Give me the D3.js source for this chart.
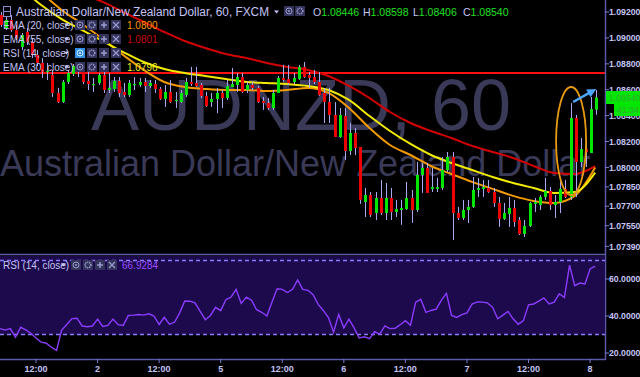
<!DOCTYPE html>
<html><head><meta charset="utf-8">
<script src="https://cdn.jsdelivr.net/npm/d3@7"></script>
<style>html,body{margin:0;padding:0;background:#000;overflow:hidden}</style>
</head><body><svg id="c" width="640" height="377"></svg>
<script>
// ---------------- DATA ----------------
const open = [1.09177,1.09077,1.09139,1.09061,1.08930,1.09046,1.08969,1.08868,1.08807,1.08737,
1.08714,1.08575,1.08505,1.08660,1.08722,1.08745,1.08783,1.08668,1.08637,1.08652,
1.08714,1.08598,1.08606,1.08668,1.08583,1.08559,1.08637,1.08637,1.08660,1.08629,
1.08644,1.08606,1.08529,1.08583,1.08513,1.08505,1.08559,1.08660,1.08652,1.08637,
1.08552,1.08505,1.08529,1.08575,1.08536,1.08621,1.08637,1.08698,1.08598,1.08637,
1.08614,1.08513,1.08498,1.08459,1.08575,1.08691,1.08683,1.08660,1.08683,1.08776,
1.08714,1.08698,1.08660,1.08575,1.08505,1.08405,1.08235,1.08397,1.08127,1.08266,
1.08158,1.07733,1.07787,1.07648,1.07764,1.07648,1.07764,1.07656,1.07671,1.07679,
1.07764,1.07671,1.07942,1.07996,1.07834,1.07834,1.07841,1.07980,1.08081,1.07648,
1.07610,1.07671,1.07695,1.07826,1.07834,1.07841,1.07810,1.07725,1.07602,1.07641,
1.07687,1.07594,1.07486,1.07548,1.07718,1.07710,1.07772,1.07818,1.07710,1.07733,
1.07834,1.07772,1.08382,1.08042,1.08142,1.08112,1.08446];
const high = [1.09200,1.09169,1.09177,1.09100,1.09038,1.09077,1.09000,1.08907,1.08845,1.08807,
1.08753,1.08614,1.08675,1.08753,1.08799,1.08814,1.08814,1.08737,1.08691,1.08729,
1.08737,1.08729,1.08698,1.08698,1.08652,1.08675,1.08698,1.08691,1.08691,1.08675,
1.08675,1.08621,1.08637,1.08675,1.08583,1.08598,1.08691,1.08776,1.08776,1.08652,
1.08583,1.08575,1.08614,1.08598,1.08675,1.08768,1.08729,1.08729,1.08660,1.08660,
1.08629,1.08544,1.08536,1.08598,1.08706,1.08791,1.08791,1.08729,1.08791,1.08814,
1.08737,1.08753,1.08737,1.08614,1.08614,1.08505,1.08459,1.08459,1.08343,1.08305,
1.08158,1.07841,1.07810,1.07810,1.07903,1.07880,1.07841,1.07749,1.07749,1.07888,
1.07826,1.08042,1.08034,1.08034,1.07996,1.07919,1.08081,1.08119,1.08119,1.07695,
1.07749,1.07749,1.07926,1.07919,1.07903,1.07903,1.07841,1.07772,1.07725,1.07772,
1.07749,1.07617,1.07594,1.07733,1.07764,1.07787,1.07919,1.07849,1.07787,1.07919,
1.07903,1.08498,1.08405,1.08227,1.08212,1.08544,1.08598];
const low = [1.09085,1.09061,1.09046,1.08984,1.08907,1.08946,1.08845,1.08783,1.08691,1.08675,
1.08544,1.08498,1.08498,1.08644,1.08706,1.08698,1.08644,1.08598,1.08583,1.08637,
1.08575,1.08575,1.08583,1.08544,1.08544,1.08544,1.08598,1.08621,1.08583,1.08614,
1.08575,1.08521,1.08467,1.08498,1.08459,1.08498,1.08544,1.08629,1.08621,1.08536,
1.08467,1.08467,1.08420,1.08459,1.08521,1.08621,1.08583,1.08575,1.08575,1.08598,
1.08498,1.08444,1.08444,1.08444,1.08575,1.08660,1.08637,1.08644,1.08675,1.08691,
1.08614,1.08644,1.08552,1.08343,1.08343,1.08235,1.08227,1.08058,1.08096,1.08096,
1.07718,1.07617,1.07617,1.07594,1.07633,1.07594,1.07594,1.07617,1.07556,1.07671,
1.07571,1.07656,1.07803,1.07803,1.07810,1.07810,1.07826,1.07965,1.07440,1.07594,
1.07594,1.07571,1.07687,1.07772,1.07772,1.07803,1.07695,1.07540,1.07594,1.07540,
1.07540,1.07478,1.07463,1.07540,1.07656,1.07671,1.07749,1.07671,1.07610,1.07648,
1.07764,1.07749,1.07772,1.08003,1.08003,1.08112,1.08406];
const close = [1.09100,1.09139,1.09061,1.09000,1.09023,1.08969,1.08868,1.08807,1.08737,1.08745,
1.08575,1.08505,1.08660,1.08729,1.08783,1.08753,1.08660,1.08644,1.08644,1.08714,
1.08598,1.08614,1.08668,1.08575,1.08559,1.08652,1.08644,1.08660,1.08629,1.08652,
1.08606,1.08529,1.08583,1.08505,1.08521,1.08575,1.08660,1.08644,1.08629,1.08552,
1.08475,1.08529,1.08575,1.08536,1.08629,1.08644,1.08698,1.08583,1.08637,1.08614,
1.08505,1.08498,1.08459,1.08575,1.08691,1.08675,1.08652,1.08691,1.08776,1.08698,
1.08691,1.08660,1.08559,1.08505,1.08405,1.08235,1.08405,1.08127,1.08266,1.08150,
1.07749,1.07787,1.07633,1.07764,1.07648,1.07764,1.07656,1.07679,1.07687,1.07764,
1.07671,1.07942,1.07996,1.07803,1.07849,1.07849,1.07980,1.08081,1.07648,1.07610,
1.07671,1.07695,1.07826,1.07841,1.07849,1.07810,1.07725,1.07602,1.07648,1.07687,
1.07579,1.07486,1.07548,1.07725,1.07733,1.07772,1.07818,1.07710,1.07733,1.07834,
1.07772,1.08382,1.08042,1.08142,1.08119,1.08451,1.08540];

const emaIndex = [0,4,8,12,16,20,24,28,32,36,40,44,48,52,56,60,64,68,72,76,80,84,88,92,96,100,104,108,112,116];
const ema20 = [1.09640,1.09525,1.09355,1.09216,1.09108,1.08992,1.08868,1.08753,1.08660,1.08621,1.08606,1.08598,1.08598,1.08590,1.08598,1.08614,1.08575,1.08459,1.08305,1.08173,1.08096,1.08011,1.07949,1.07888,1.07834,1.07780,1.07741,1.07725,1.07780,1.08000];
const ema30 = [1.09486,1.09386,1.09254,1.09146,1.09061,1.08976,1.08891,1.08814,1.08760,1.08729,1.08706,1.08683,1.08660,1.08652,1.08644,1.08629,1.08598,1.08521,1.08397,1.08281,1.08181,1.08096,1.08034,1.07980,1.07926,1.07880,1.07841,1.07803,1.07810,1.07960];
const ema55 = [1.09525,1.09478,1.09432,1.09386,1.09339,1.09278,1.09200,1.09123,1.09046,1.08976,1.08922,1.08876,1.08845,1.08807,1.08776,1.08753,1.08706,1.08629,1.08536,1.08428,1.08343,1.08281,1.08227,1.08166,1.08119,1.08073,1.08011,1.07957,1.07949,1.08010];

const rsi = [33.2,32.4,33.2,28.5,33.9,32.5,30.7,28.1,25.9,25.3,
23.1,21.4,32.4,35.4,38.6,38.8,34.6,34.2,34.6,38.3,
34.4,34.9,38.3,35.3,34.9,40.3,40.5,40.8,40.5,41.2,
40.0,35.4,39.3,35.6,36.6,41.7,48.1,48.0,47.1,42.5,
38.0,40.3,44.7,42.9,48.8,50.2,54.4,46.8,50.2,48.5,
43.4,42.0,40.0,47.6,54.7,54.4,52.7,54.4,59.5,54.4,
53.9,51.5,46.3,43.0,39.2,31.2,40.8,33.6,38.3,33.6,
28.1,28.8,27.8,31.5,30.2,34.6,33.2,33.4,35.3,37.5,
35.0,47.5,49.0,42.0,43.0,43.7,48.5,52.2,40.3,39.2,
40.8,41.7,46.4,47.6,47.5,47.1,44.7,38.5,40.5,42.5,
38.5,35.5,37.5,46.0,46.5,48.0,49.8,46.5,47.5,52.0,
50.0,67.5,56.4,57.8,57.3,65.4,66.9284];

const priceTicks = [1.092,1.090,1.088,1.086,1.084,1.082,1.080,1.0785,1.077,1.0755,1.0739];
const rsiTicks = [60,40,20];
const rsiBands = [70,30];
const timeTickIndex = [7,19,31,43,55,67,79,91,103,115];
const timeTickLabels = ["12:00","2","12:00","5","12:00","6","12:00","7","12:00","8"];
const resistance = 1.08729;
const lastPrice = 1.08540;
const countdown = "41:34";

// ---------------- DRAW ----------------
const svg = d3.select("#c");
const W = 640, H = 377, AX = 605, MAIN_B = 254, RSI_T = 256, RSI_B = 359;
const FONT = "'Liberation Sans', Arial, sans-serif";
const NARROW = "'Liberation Sans Narrow', 'Arial Narrow', sans-serif";
const TXT = "#c4c4f6";

const x = d3.scaleLinear().domain([0, 116]).range([0.1, 595.2]);
const y = d3.scaleLinear().domain([1.0739, 1.092]).range([246.4, 12.05]);
const yr = d3.scaleLinear().domain([30, 70]).range([334.5, 260.5]);

svg.append("rect").attr("width", W).attr("height", H).attr("fill", "#000");

const defs = svg.append("defs");
defs.append("clipPath").attr("id", "cm").append("rect").attr("x", 0).attr("y", 0).attr("width", AX).attr("height", MAIN_B);
defs.append("clipPath").attr("id", "cr").append("rect").attr("x", 0).attr("y", RSI_T).attr("width", AX).attr("height", RSI_B - RSI_T);

const gm = svg.append("g").attr("clip-path", "url(#cm)");

// watermark
gm.append("text").attr("x", 91).attr("y", 130).text("AUDNZD, 60")
  .attr("font-family", FONT).attr("font-size", 72).attr("fill", "#3a3a58");
gm.append("text").attr("x", 0).attr("y", 176).text("Australian Dollar/New Zealand Dollar")
  .attr("font-family", FONT).attr("font-size", 36).attr("fill", "#3a3a58");

// horizontal resistance line
gm.append("line").attr("x1", 0).attr("x2", AX).attr("y1", y(resistance)).attr("y2", y(resistance))
  .attr("stroke", "#ff1010").attr("stroke-width", 2);

// EMAs
const emaLine = d3.line().x(d => x(d[0])).y(d => y(d[1])).curve(d3.curveMonotoneX);
[[ema55, "#d40000"], [ema20, "#f29a00"], [ema30, "#f2ea00"]].forEach(([arr, col]) => {
  gm.append("path").datum(emaIndex.map((k, j) => [k, arr[j]]))
    .attr("d", emaLine).attr("fill", "none").attr("stroke", col).attr("stroke-width", 2);
});

// candles
const candles = d3.range(open.length).map(i => ({ i, o: open[i], h: high[i], l: low[i], c: close[i] }));
gm.selectAll("line.wick").data(candles).join("line").attr("class", "wick")
  .attr("x1", d => Math.round(x(d.i)) + 1.5).attr("x2", d => Math.round(x(d.i)) + 1.5)
  .attr("y1", d => y(d.h)).attr("y2", d => y(d.l))
  .attr("stroke", "#a8a8f4").attr("stroke-width", 1);
gm.selectAll("rect.body").data(candles).join("rect").attr("class", "body")
  .attr("x", d => Math.round(x(d.i)))
  .attr("width", 3)
  .attr("y", d => y(Math.max(d.o, d.c)))
  .attr("height", d => Math.max(1.2, Math.abs(y(d.o) - y(d.c))))
  .attr("fill", d => d.c >= d.o ? "#00e600" : "#ee0000");

// annotation: ellipse + arrow
gm.append("ellipse").attr("cx", x(111.3)).attr("cy", y(1.08204)).attr("rx", 15).attr("ry", 54)
  .attr("fill", "none").attr("stroke", "#e89a10").attr("stroke-width", 1.8);
const ax1 = x(111.7), ay1 = y(1.08505), ax2 = x(116.2), ay2 = y(1.08606);
const ang = Math.atan2(ay2 - ay1, ax2 - ax1);
gm.append("line").attr("x1", ax1).attr("y1", ay1)
  .attr("x2", ax2 - 6 * Math.cos(ang)).attr("y2", ay2 - 6 * Math.sin(ang))
  .attr("stroke", "#4aa6ff").attr("stroke-width", 2.5);
const hp = [[ax2, ay2],
  [ax2 - 9 * Math.cos(ang) + 4.5 * Math.sin(ang), ay2 - 9 * Math.sin(ang) - 4.5 * Math.cos(ang)],
  [ax2 - 9 * Math.cos(ang) - 4.5 * Math.sin(ang), ay2 - 9 * Math.sin(ang) + 4.5 * Math.cos(ang)]];
gm.append("polygon").attr("points", hp.map(p => p.join(",")).join(" ")).attr("fill", "#4aa6ff");

// pane separators / axes lines
svg.append("line").attr("x1", 0).attr("x2", AX).attr("y1", MAIN_B + 0.5).attr("y2", MAIN_B + 0.5).attr("stroke", "#5a5aa8").attr("stroke-width", 1.5);
svg.append("line").attr("x1", AX + 0.5).attr("x2", AX + 0.5).attr("y1", 0).attr("y2", RSI_B + 1).attr("stroke", "#5a5aa8").attr("stroke-width", 1.5);

// price axis
const pa = svg.append("g");
pa.selectAll("line").data(priceTicks).join("line")
  .attr("x1", AX).attr("x2", AX + 4).attr("y1", d => y(d)).attr("y2", d => y(d)).attr("stroke", "#7a7ad0");
pa.selectAll("text").data(priceTicks).join("text")
  .attr("x", 609).attr("y", d => y(d) + 3.1).text(d => d.toFixed(5))
  .attr("font-family", NARROW).attr("font-size", 8.7).attr("font-weight", "bold").attr("fill", TXT);

// last price tags
const ly = y(lastPrice);
svg.append("rect").attr("x", 606).attr("y", ly - 6.5).attr("width", 34).attr("height", 13).attr("fill", "#00e600");
svg.append("text").attr("x", 609).attr("y", ly + 3.1).text(lastPrice.toFixed(5))
  .attr("font-family", NARROW).attr("font-size", 8.7).attr("fill", "#3aa63a");
svg.append("rect").attr("x", 614).attr("y", ly + 6.5).attr("width", 26).attr("height", 12).attr("fill", "#00e600");
svg.append("text").attr("x", 617).attr("y", ly + 15.5).text(countdown)
  .attr("font-family", NARROW).attr("font-size", 8.7).attr("fill", "#3aa63a");

// RSI pane
svg.append("rect").attr("x", 0).attr("y", RSI_T).attr("width", AX).attr("height", yr(30) - RSI_T).attr("fill", "#1d0a4c");
const gr = svg.append("g").attr("clip-path", "url(#cr)");
gr.selectAll("line.band").data(rsiBands).join("line").attr("class", "band")
  .attr("x1", 0).attr("x2", AX).attr("y1", d => yr(d)).attr("y2", d => yr(d))
  .attr("stroke", "#8a7cff").attr("stroke-width", 1.3).attr("stroke-dasharray", "4,3");
gr.append("path").datum(rsi).attr("fill", "none").attr("stroke", "#8b3cff").attr("stroke-width", 1.4)
  .attr("d", d3.line().x((d, i) => x(i)).y(d => yr(d)));
const ra = svg.append("g");
ra.selectAll("line").data(rsiTicks).join("line")
  .attr("x1", AX).attr("x2", AX + 4).attr("y1", d => yr(d)).attr("y2", d => yr(d)).attr("stroke", "#7a7ad0");
ra.selectAll("text").data(rsiTicks).join("text")
  .attr("x", 609).attr("y", d => yr(d) + 3.1).text(d => d.toFixed(4))
  .attr("font-family", NARROW).attr("font-size", 8.7).attr("font-weight", "bold").attr("fill", TXT);

// time axis
svg.append("line").attr("x1", 0).attr("x2", AX + 1).attr("y1", RSI_B + 0.5).attr("y2", RSI_B + 0.5).attr("stroke", "#5a5aa8").attr("stroke-width", 1.5);
const ta = svg.append("g");
ta.selectAll("line").data(timeTickIndex).join("line")
  .attr("x1", d => x(d)).attr("x2", d => x(d)).attr("y1", RSI_B).attr("y2", RSI_B + 4).attr("stroke", "#7a7ad0");
ta.selectAll("text").data(timeTickIndex).join("text")
  .attr("x", d => x(d)).attr("y", 372).attr("text-anchor", "middle")
  .text((d, j) => timeTickLabels[j])
  .attr("font-family", NARROW).attr("font-size", 9).attr("font-weight", "bold").attr("fill", TXT);

// ---------------- LEGEND ----------------
function iconBox(g, bx, by, type, hl) {
  g.append("rect").attr("x", bx).attr("y", by).attr("width", 10).attr("height", 10)
    .attr("fill", hl ? "#2f8fe8" : "#33335a");
  const cx = bx + 5, cy = by + 5, c = hl ? "#d8ecff" : "#9a9ad0";
  if (type === "eye") {
    g.append("circle").attr("cx", cx).attr("cy", cy).attr("r", 3).attr("fill", "none").attr("stroke", c).attr("stroke-width", 1);
    g.append("circle").attr("cx", cx).attr("cy", cy).attr("r", 1).attr("fill", c);
  } else if (type === "gear") {
    g.append("circle").attr("cx", cx).attr("cy", cy).attr("r", 2.8).attr("fill", "none").attr("stroke", c).attr("stroke-width", 1.6).attr("stroke-dasharray", "1.2,0.8");
  } else if (type === "plus") {
    g.append("path").attr("d", `M${cx - 3},${cy}H${cx + 3}M${cx},${cy - 3}V${cy + 3}`).attr("stroke", c).attr("stroke-width", 1.5);
  } else {
    g.append("path").attr("d", `M${cx - 3},${cy - 3}L${cx + 3},${cy + 3}M${cx + 3},${cy - 3}L${cx - 3},${cy + 3}`).attr("stroke", c).attr("stroke-width", 1.3);
  }
}
function tri(g, tx, ty) {
  g.append("path").attr("d", `M${tx},${ty - 1.5}h5l-2.5,3z`).attr("fill", TXT);
}
const lg = svg.append("g");
// title row
lg.append("rect").attr("x", 3.5).attr("y", 6.5).attr("width", 7).attr("height", 10).attr("fill", "none").attr("stroke", "#8a8ad0");
lg.append("line").attr("x1", 3.5).attr("x2", 10.5).attr("y1", 11.5).attr("y2", 11.5).attr("stroke", "#8a8ad0");
lg.append("text").attr("x", 16).attr("y", 16).text("Australian Dollar/New Zealand Dollar, 60, FXCM")
  .attr("font-family", FONT).attr("font-size", 12).attr("fill", TXT)
  .attr("textLength", 253).attr("lengthAdjust", "spacingAndGlyphs");
tri(lg, 274, 12);
iconBox(lg, 284, 6, "eye", false);
iconBox(lg, 295, 6, "gear", false);
const ohlc = [["O", open[116], 313], ["H", high[116], 363], ["L", low[116], 413], ["C", close[116], 463]];
ohlc.forEach(([k, v, px]) => {
  const t = lg.append("text").attr("x", px).attr("y", 16).attr("font-family", FONT).attr("font-size", 10.5);
  t.append("tspan").text(k).attr("fill", TXT);
  t.append("tspan").text(v.toFixed(5)).attr("fill", "#1ee01e");
});

const legendRows = [
  { label: "EMA (20, close)", value: ema20[ema20.length - 1].toFixed(4), color: "#ff9a00", cy: 25 },
  { label: "EMA (55, close)", value: ema55[ema55.length - 1].toFixed(4), color: "#c80000", cy: 39 },
  { label: "RSI (14, close)", value: "", color: "", cy: 53, hl: true },
  { label: "EMA (30, close)", value: ema30[ema30.length - 1].toFixed(4), color: "#f0f020", cy: 67 }
];
legendRows.forEach(r => {
  lg.append("text").attr("x", 3).attr("y", r.cy + 3.5).text(r.label)
    .attr("font-family", NARROW).attr("font-size", 10).attr("fill", TXT);
  tri(lg, 64, r.cy);
  iconBox(lg, 75, r.cy - 5, "eye", !!r.hl);
  iconBox(lg, 87, r.cy - 5, "gear", false);
  iconBox(lg, 99, r.cy - 5, "plus", false);
  iconBox(lg, 111, r.cy - 5, "x", false);
  if (r.value) lg.append("text").attr("x", 127).attr("y", r.cy + 3.5).text(r.value)
    .attr("font-family", NARROW).attr("font-size", 10).attr("fill", r.color);
});
// RSI legend
const rl = RSI_T + 9;
lg.append("text").attr("x", 3).attr("y", rl + 3.5).text("RSI (14, close)")
  .attr("font-family", NARROW).attr("font-size", 10).attr("fill", TXT);
tri(lg, 61, rl);
iconBox(lg, 71, rl - 5, "eye", false);
iconBox(lg, 83, rl - 5, "gear", false);
iconBox(lg, 95, rl - 5, "plus", false);
iconBox(lg, 107, rl - 5, "x", false);
lg.append("text").attr("x", 122).attr("y", rl + 3.5).text(rsi[rsi.length - 1].toFixed(4))
  .attr("font-family", NARROW).attr("font-size", 10).attr("fill", "#9a4dff");
</script>
</body></html>
